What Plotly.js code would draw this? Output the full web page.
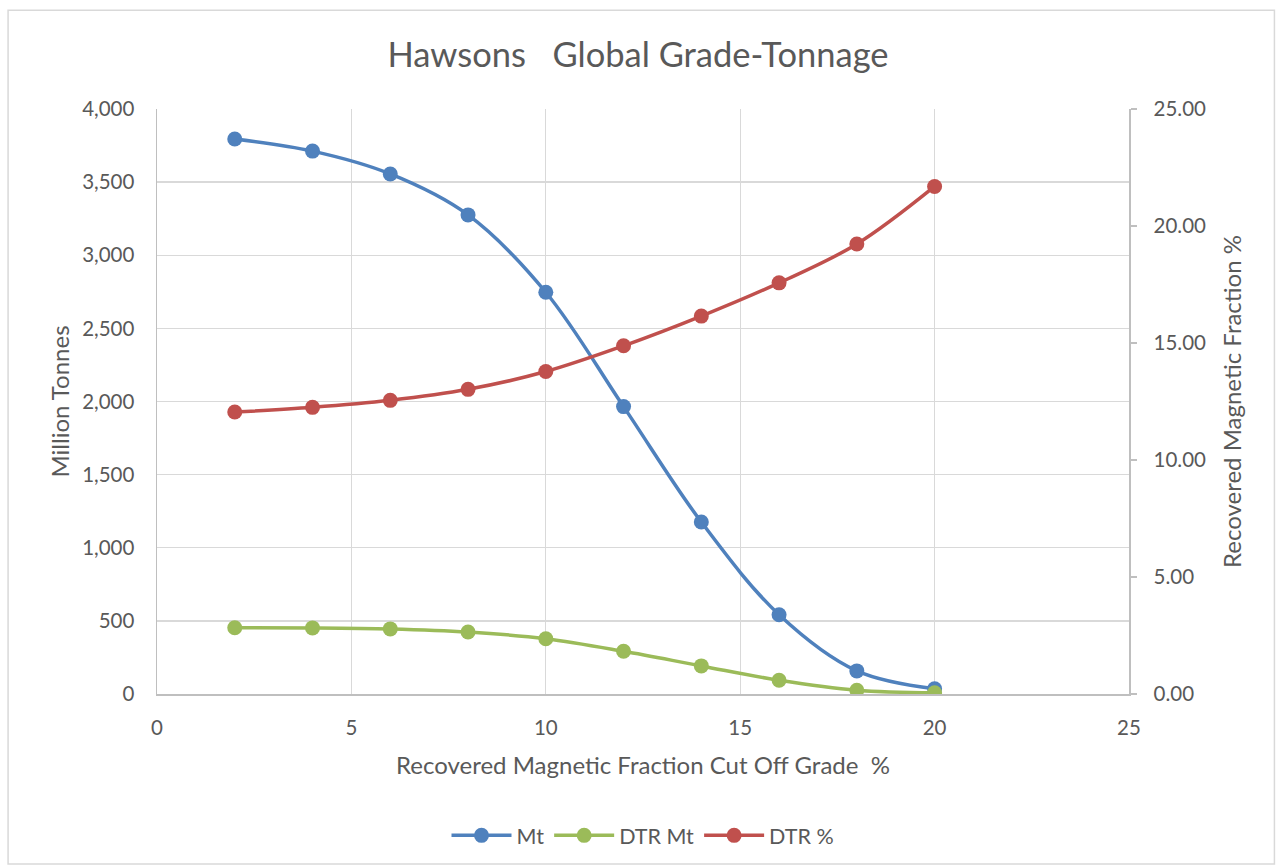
<!DOCTYPE html>
<html>
<head>
<meta charset="utf-8">
<script src="https://cdn.plot.ly/plotly-3.0.1.min.js"></script>
<style>
html,body{margin:0;padding:0;background:#fff;}
#chart{width:1276px;height:867px;}
</style>
</head>
<body>
<div id="chart"></div>
<script>
// Data
const cutOffGrade = [2, 4, 6, 8, 10, 12, 14, 16, 18, 20];
const mtValues = [3795, 3712, 3556, 3276, 2747, 1965, 1176, 542, 158, 36];
const dtrMtValues = [453, 452, 445, 424, 378, 292, 192, 94, 26, 8];
const dtrPctValues = [12.05, 12.25, 12.55, 13.02, 13.78, 14.88, 16.15, 17.57, 19.23, 21.69];
const seriesNames = ["Mt", "DTR Mt", "DTR %"];
const leftTicks = [0, 500, 1000, 1500, 2000, 2500, 3000, 3500, 4000];
const rightTicks = [0, 5, 10, 15, 20, 25];
const xTicks = [0, 5, 10, 15, 20, 25];

const FONT = "Lato, 'Open Sans', sans-serif";
const TXT = "#595959";

const traces = [
  {
    x: cutOffGrade, y: mtValues, name: seriesNames[0], type: "scatter", mode: "lines+markers",
    line: {color: "#4f81bd", width: 3.5, shape: "spline", smoothing: 1},
    marker: {color: "#4f81bd", size: 15}, yaxis: "y", legendrank: 1
  },
  {
    x: cutOffGrade, y: dtrPctValues, name: seriesNames[2], type: "scatter", mode: "lines+markers",
    line: {color: "#c0504d", width: 3.5, shape: "spline", smoothing: 1},
    marker: {color: "#c0504d", size: 15}, yaxis: "y2", legendrank: 3
  },
  {
    x: cutOffGrade, y: dtrMtValues, name: seriesNames[1], type: "scatter", mode: "lines+markers",
    line: {color: "#9bbb59", width: 3.5, shape: "spline", smoothing: 1},
    marker: {color: "#9bbb59", size: 15}, yaxis: "y", legendrank: 2
  }
];

const plotL = 157, plotR = 1129.5, plotT = 109, plotB = 695.5;
const W = 1276, H = 867;
const pw = plotR - plotL, ph = plotB - plotT;
const px = v => (v - plotL) / pw;
const py = v => (plotB - v) / ph;

const layout = {
  width: W, height: H,
  paper_bgcolor: "#ffffff", plot_bgcolor: "#ffffff",
  margin: {l: plotL, r: W - plotR, t: plotT, b: H - plotB, pad: 0},
  font: {family: FONT, color: TXT, size: 20},
  title: {
    text: "Hawsons&nbsp;&nbsp;&nbsp;Global Grade-Tonnage",
    font: {family: FONT, size: 34.5, color: TXT},
    x: 0.5, xanchor: "center", xref: "container",
    y: 1 - 55 / H, yanchor: "middle", yref: "container"
  },
  xaxis: {
    range: [0, 25], tickvals: xTicks, ticktext: xTicks.map(String),
    showgrid: true, gridcolor: "#d9d9d9", gridwidth: 1.3,
    showline: true, linecolor: "#bfbfbf", linewidth: 1.5,
    ticks: "", ticklabelstandoff: 15,
    zeroline: false, tickfont: {family: FONT, size: 20.5, color: TXT},
    title: {text: "Recovered Magnetic Fraction Cut Off Grade&nbsp;&nbsp;%", font: {family: FONT, size: 24, color: TXT}, standoff: 19}
  },
  yaxis: {
    range: [0, 4000], tickvals: leftTicks, ticktext: leftTicks.map(v => v.toLocaleString("en-US")),
    showgrid: true, gridcolor: "#d9d9d9", gridwidth: 1.3,
    showline: true, linecolor: "#bfbfbf", linewidth: 1.5,
    ticks: "", ticklabelstandoff: 17, zeroline: false,
    tickfont: {family: FONT, size: 20.5, color: TXT},
    title: {text: "Million Tonnes", font: {family: FONT, size: 24, color: TXT}, standoff: 6}
  },
  yaxis2: {
    range: [0, 25], tickvals: rightTicks, ticktext: rightTicks.map(v => v.toFixed(2)),
    overlaying: "y", side: "right", showgrid: false,
    showline: true, linecolor: "#bfbfbf", linewidth: 1.5,
    ticks: "outside", ticklen: 6, tickcolor: "#bfbfbf", tickwidth: 1.5,
    ticklabelstandoff: 13, zeroline: false,
    tickfont: {family: FONT, size: 20.5, color: TXT},
    title: {text: "Recovered Magnetic Fraction %", font: {family: FONT, size: 24, color: TXT}, standoff: 19}
  },
  legend: {
    orientation: "h", x: 0.5, xanchor: "center", xref: "paper",
    y: py(836), yanchor: "middle",
    font: {family: FONT, size: 21.5, color: TXT},
    traceorder: "normal", itemwidth: 60,
    bgcolor: "rgba(0,0,0,0)"
  },
  shapes: [{
    type: "rect", xref: "paper", yref: "paper",
    x0: px(8), x1: px(1275), y0: py(866), y1: py(10),
    line: {color: "#d9d9d9", width: 1.5}, fillcolor: "rgba(0,0,0,0)", layer: "below"
  }],
  showlegend: true
};

Plotly.newPlot("chart", traces, layout, {displayModeBar: false, staticPlot: true});
</script>
</body>
</html>
